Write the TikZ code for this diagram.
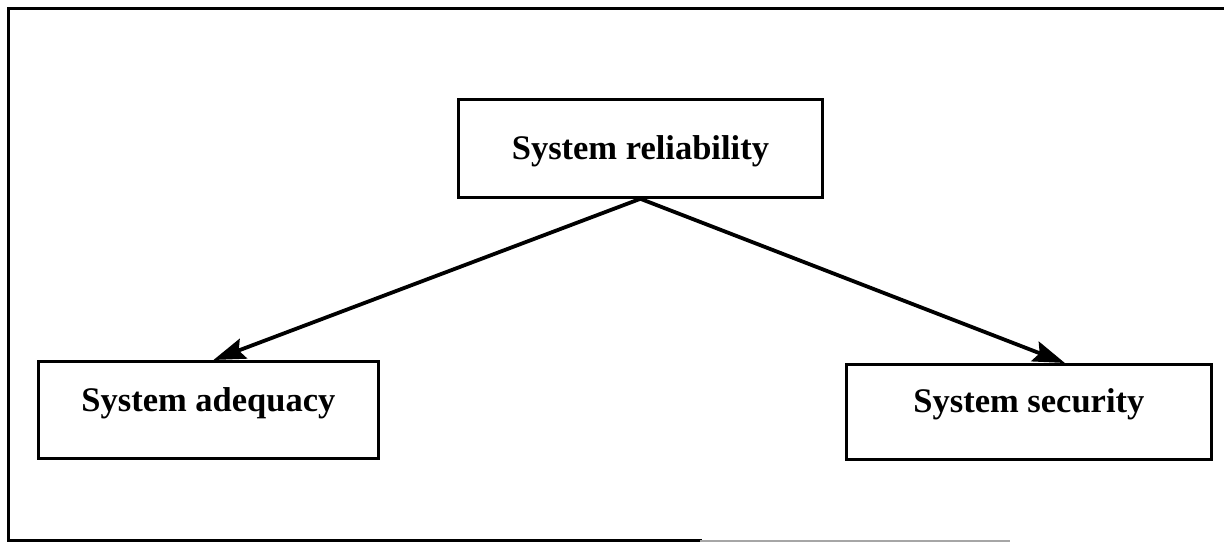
\documentclass[tikz,border=0pt]{standalone}
\usepackage{fontspec}
\setmainfont{Liberation Serif}
\usetikzlibrary{arrows.meta}
\begin{document}
\begin{tikzpicture}[x=1pt,y=-1pt,
  conceptbox/.style={draw=black, line width=2.8pt, rectangle, inner sep=0pt,
    font=\fontsize{34.5}{40}\selectfont\bfseries, align=center},
  link/.style={line width=3.8pt, -{Stealth[length=32pt,width=21pt,inset=5pt]}},
  frame/.style={line width=3pt, line cap=rect}]
  \useasboundingbox (0,0) rectangle (1224,543);

  % outer frame (open on the right)
  \draw[frame] (1224,9) -- (8,9) -- (8,540) -- (700,540);
  \draw[line width=2.5pt, black!35] (700,541) -- (1010,541);

  % concept boxes: text height/depth place the baseline inside each box
  \node[conceptbox, minimum width=364pt, text height=60pt, text depth=38pt,
        anchor=north west] (rel) at (457,98) {System reliability};
  \node[conceptbox, minimum width=340pt, text height=50pt, text depth=47pt,
        anchor=north west] (adeq) at (37,360) {System adequacy};
  \node[conceptbox, minimum width=365pt, text height=48pt, text depth=47pt,
        anchor=north west] (sec) at (845,363) {System security};

  % links from the top box to the two aspects
  \draw[link] (rel.south) -- ([xshift=5pt]adeq.north);
  \draw[link] (rel.south) -- ([xshift=36pt]sec.north);
\end{tikzpicture}
\end{document}
